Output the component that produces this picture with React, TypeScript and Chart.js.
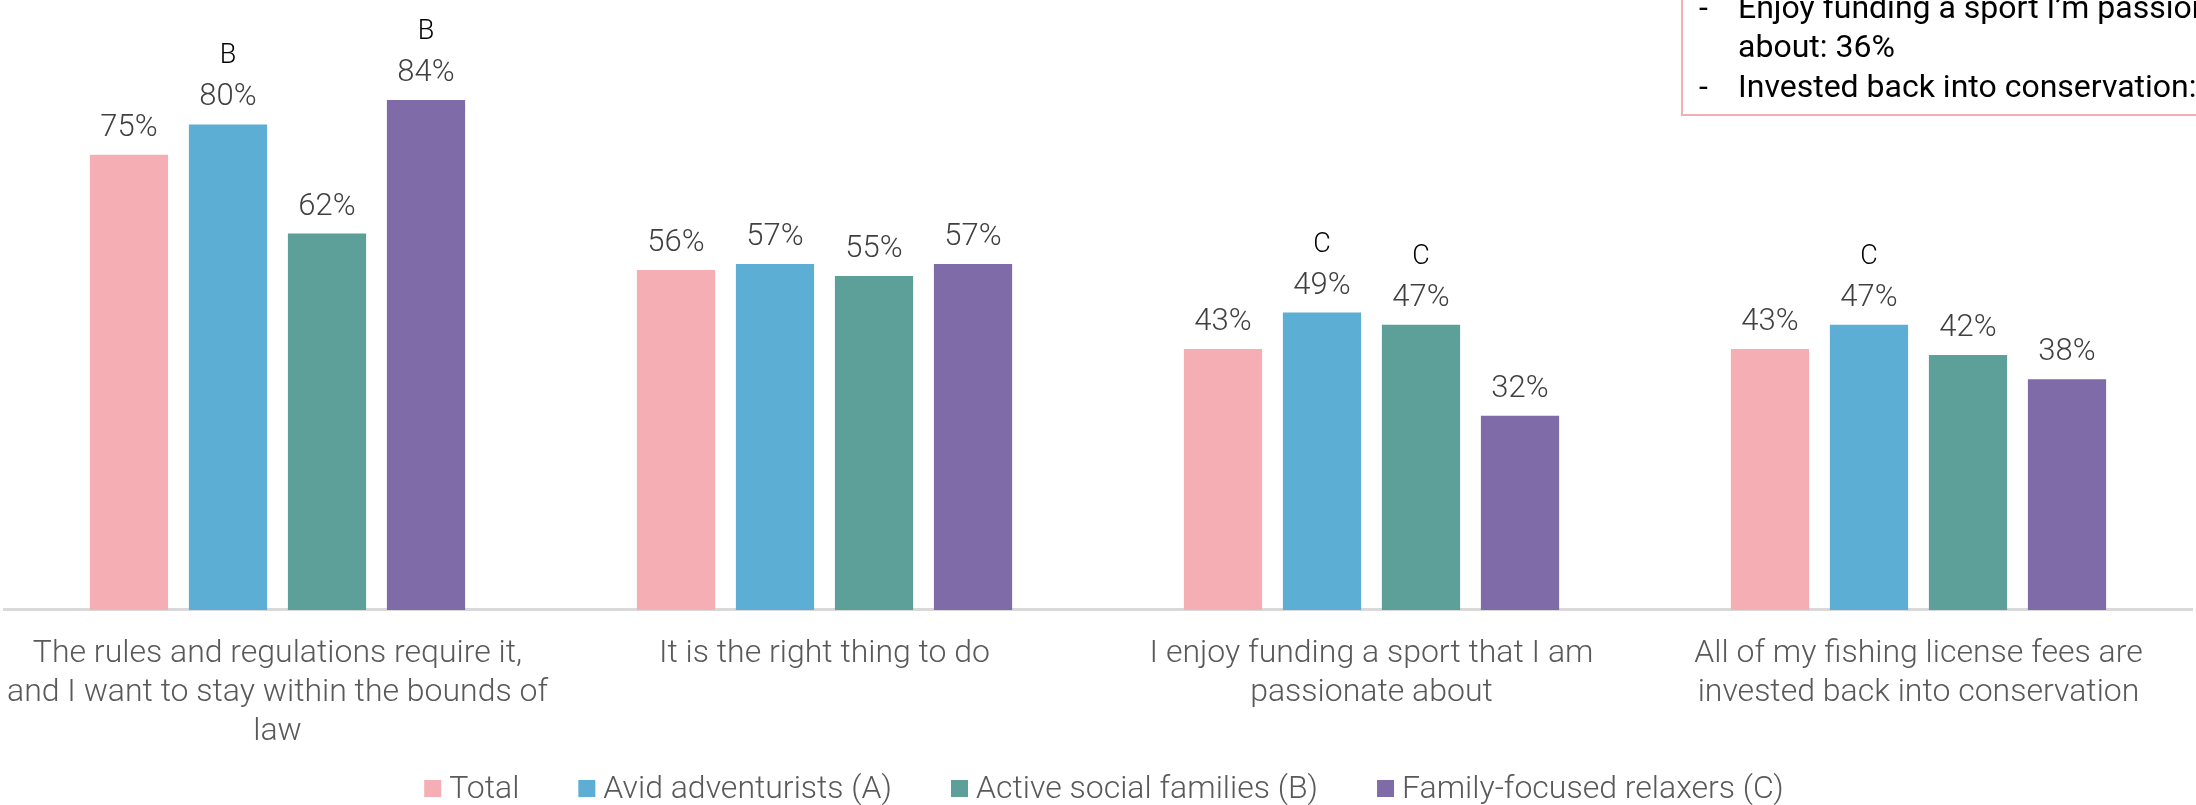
import React, { useEffect, useRef } from "react";
import { Chart, registerables } from "chart.js";

Chart.register(...registerables);

const categories: string[][] = [
  ["The rules and regulations require it,", "and I want to stay within the bounds of", "law"],
  ["It is the right thing to do"],
  ["I enjoy funding a sport that I am", "passionate about"],
  ["All of my fishing license fees are", "invested back into conservation"],
];

const seriesNames = ["Total", "Avid adventurists (A)", "Active social families (B)", "Family-focused relaxers (C)"];
const seriesColors = ["#F4AEB4", "#5DAED4", "#5CA099", "#7F6BA8"];

const totalValues = [75, 56, 43, 43];
const avidValues = [80, 57, 49, 47];
const activeValues = [62, 55, 47, 42];
const familyValues = [84, 57, 32, 38];

const totalSig = ["", "", "", ""];
const avidSig = ["B", "", "C", "C"];
const activeSig = ["", "", "C", ""];
const familySig = ["B", "", "", ""];

const noteLines = [
  { dash: "-", text: "Enjoy funding a sport I\u2019m passionate" },
  { dash: "", text: "about: 36%" },
  { dash: "-", text: "Invested back into conservation:" },
];

const W = 2196;
const H = 805;

const labelPlugin = {
  id: "valueLabels",
  afterDatasetsDraw(chart: any) {
    const ctx = chart.ctx;
    const sigs = [totalSig, avidSig, activeSig, familySig];
    chart.data.datasets.forEach((ds: any, di: number) => {
      const meta = chart.getDatasetMeta(di);
      meta.data.forEach((bar: any, i: number) => {
        const v = ds.data[i];
        ctx.save();
        ctx.textAlign = "center";
        ctx.textBaseline = "alphabetic";
        ctx.fillStyle = "#404040";
        ctx.font = "300 31px Roboto";
        const base = bar.y - 19;
        ctx.fillText(v + "%", bar.x, base);
        const s = sigs[di][i];
        if (s) {
          ctx.fillStyle = "#000000";
          ctx.font = "300 27px Roboto";
          ctx.fillText(s, bar.x, base - 42);
        }
        ctx.restore();
      });
    });
  },
};

const legendPlugin = {
  id: "customLegend",
  afterDraw(chart: any) {
    const ctx = chart.ctx;
    ctx.save();
    ctx.font = "300 32px Roboto";
    const box = 17;
    const gapText = 8;
    const gapItem = 59;
    const items = chart.data.datasets.map((ds: any) => ({
      label: ds.label,
      color: ds.backgroundColor,
      w: box + gapText + ctx.measureText(ds.label).width,
    }));
    const total = items.reduce((a: number, it: any) => a + it.w, 0) + gapItem * (items.length - 1);
    let x = chart.width / 2 - total / 2 + 6;
    const baseY = 798;
    items.forEach((it: any) => {
      ctx.fillStyle = it.color;
      ctx.fillRect(x, baseY - box - 1, box, box);
      ctx.fillStyle = "#595959";
      ctx.textAlign = "left";
      ctx.textBaseline = "alphabetic";
      ctx.fillText(it.label, x + box + gapText, baseY);
      x += it.w + gapItem;
    });
    ctx.restore();
  },
};

const notePlugin = {
  id: "noteBox",
  afterDraw(chart: any) {
    const ctx = chart.ctx;
    ctx.save();
    ctx.strokeStyle = "#F4AEB4";
    ctx.lineWidth = 2;
    ctx.strokeRect(1682, -20, 600, 135);
    ctx.fillStyle = "#000000";
    ctx.font = "400 32px Roboto";
    ctx.textBaseline = "alphabetic";
    ctx.textAlign = "left";
    noteLines.forEach((l, i) => {
      const y = 18 + i * 39.3;
      if (l.dash) ctx.fillText(l.dash, 1699, y);
      ctx.fillText(l.text, 1738, y);
    });
    ctx.restore();
  },
};

export default function App() {
  const ref = useRef<HTMLCanvasElement | null>(null);
  useEffect(() => {
    document.body.style.margin = "0";
    const canvas = ref.current!;
    const chart = new Chart(canvas, {
      type: "bar",
      data: {
        labels: categories,
        datasets: [
          { label: seriesNames[0], data: totalValues, backgroundColor: seriesColors[0] },
          { label: seriesNames[1], data: avidValues, backgroundColor: seriesColors[1] },
          { label: seriesNames[2], data: activeValues, backgroundColor: seriesColors[2] },
          { label: seriesNames[3], data: familyValues, backgroundColor: seriesColors[3] },
        ],
      },
      options: {
        responsive: false,
        animation: false,
        devicePixelRatio: 1,
        layout: { padding: { top: 3, left: 4, right: 4, bottom: 28 } },
        datasets: { bar: { categoryPercentage: 0.724, barPercentage: 0.79 } },
        plugins: { legend: { display: false }, tooltip: { enabled: false } },
        scales: {
          x: {
            grid: { display: false, drawTicks: false },
            border: { display: true, color: "#D9D9D9", width: 3 },
            afterFit(scale: any) {
              scale.paddingLeft = 0;
              scale.paddingRight = 0;
            },
            ticks: {
              autoSkip: false,
              maxRotation: 0,
              padding: 25,
              color: "#595959",
              font: { family: "Roboto", size: 32, weight: 300, lineHeight: 1.22 },
            },
          },
          y: { display: false, min: 0, max: 100 },
        },
      },
      plugins: [labelPlugin, legendPlugin, notePlugin],
    });
    return () => chart.destroy();
  }, []);
  return <canvas ref={ref} width={W} height={H} style={{ display: "block" }} />;
}
